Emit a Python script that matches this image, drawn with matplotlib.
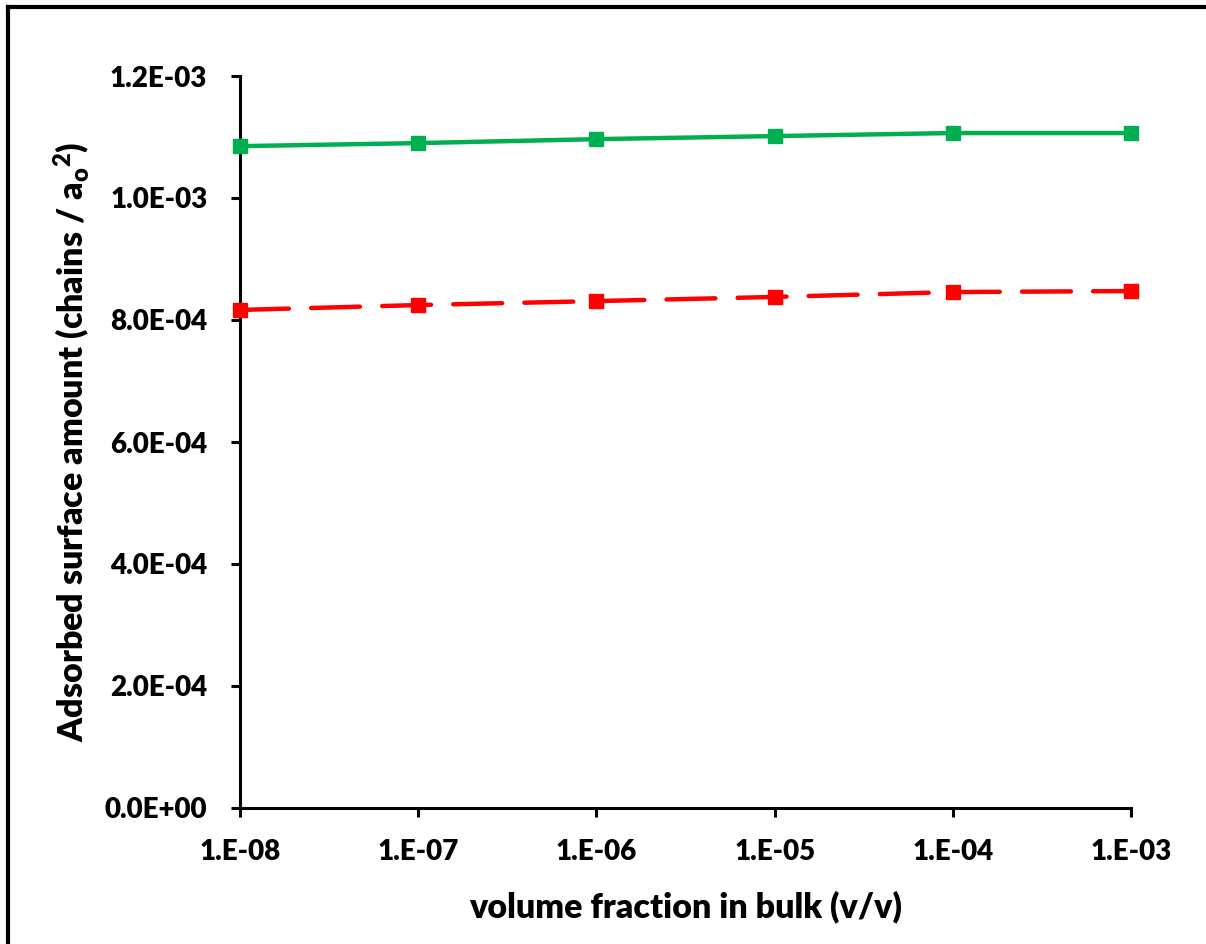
import matplotlib.pyplot as plt
import matplotlib.ticker as ticker
from matplotlib.lines import Line2D

plt.rcParams['font.family'] = ['Lato', 'DejaVu Sans']
plt.rcParams['font.weight'] = 'heavy'
plt.rcParams['axes.labelweight'] = 'heavy'
plt.rcParams['mathtext.fontset'] = 'custom'
plt.rcParams['mathtext.rm'] = 'Lato:heavy'
plt.rcParams['mathtext.bf'] = 'Lato:heavy'
plt.rcParams['mathtext.it'] = 'Lato:heavy'

x = [1e-8, 1e-7, 1e-6, 1e-5, 1e-4, 1e-3]
green = [1.085e-3, 1.090e-3, 1.0965e-3, 1.1015e-3, 1.1065e-3, 1.1065e-3]
red = [0.8165e-3, 0.8245e-3, 0.831e-3, 0.8378e-3, 0.8458e-3, 0.8475e-3]

fig = plt.figure(figsize=(12.06, 9.44), dpi=100)
ax = fig.add_axes([240 / 1206, 1 - 808 / 944, (1131 - 240) / 1206, (808 - 76) / 944])

ax.plot(x, green, color='#00b050', lw=3.2, marker='s', ms=10, solid_capstyle='round', clip_on=False, zorder=3)
ax.plot(x, red, color='#ff0000', lw=3.2, marker='s', ms=10, dashes=(11, 5), dash_capstyle='round',
        clip_on=False, zorder=3)

ax.set_xscale('log')
ax.set_xlim(1e-8, 1e-3)
ax.set_ylim(0, 1.2e-3)
ax.set_yticks([0, 2e-4, 4e-4, 6e-4, 8e-4, 1e-3, 1.2e-3])
ax.yaxis.set_major_formatter(ticker.FuncFormatter(lambda v, _: '{:.1E}'.format(v)))
ax.xaxis.set_major_locator(ticker.FixedLocator(x))
ax.xaxis.set_minor_locator(ticker.NullLocator())
ax.xaxis.set_major_formatter(ticker.FuncFormatter(lambda v, _: '{:#.0E}'.format(v)))

for s in ['top', 'right']:
    ax.spines[s].set_visible(False)
for s in ['left', 'bottom']:
    ax.spines[s].set_linewidth(2.2)
ax.tick_params(axis='both', direction='out', length=6.5, width=2.2, labelsize=20)
ax.tick_params(axis='y', pad=17)
ax.tick_params(axis='x', pad=16)

ax.set_xlabel('volume fraction in bulk (v/v)', fontsize=24.5, labelpad=18)
ax.set_ylabel(r'Adsorbed surface amount (chains / a$_{\mathrm{o}}$$^{\mathrm{2}}$)', fontsize=24.5,
              labelpad=9)

# partial frame of the original picture (left and top edges)
fig.add_artist(Line2D([8 / 1206, 8 / 1206], [0, 1 - 7 / 944], color='black', lw=3, transform=fig.transFigure))
fig.add_artist(Line2D([8 / 1206, 1], [1 - 7 / 944, 1 - 7 / 944], color='black', lw=3, transform=fig.transFigure))

fig.savefig('out.png', dpi=100)
